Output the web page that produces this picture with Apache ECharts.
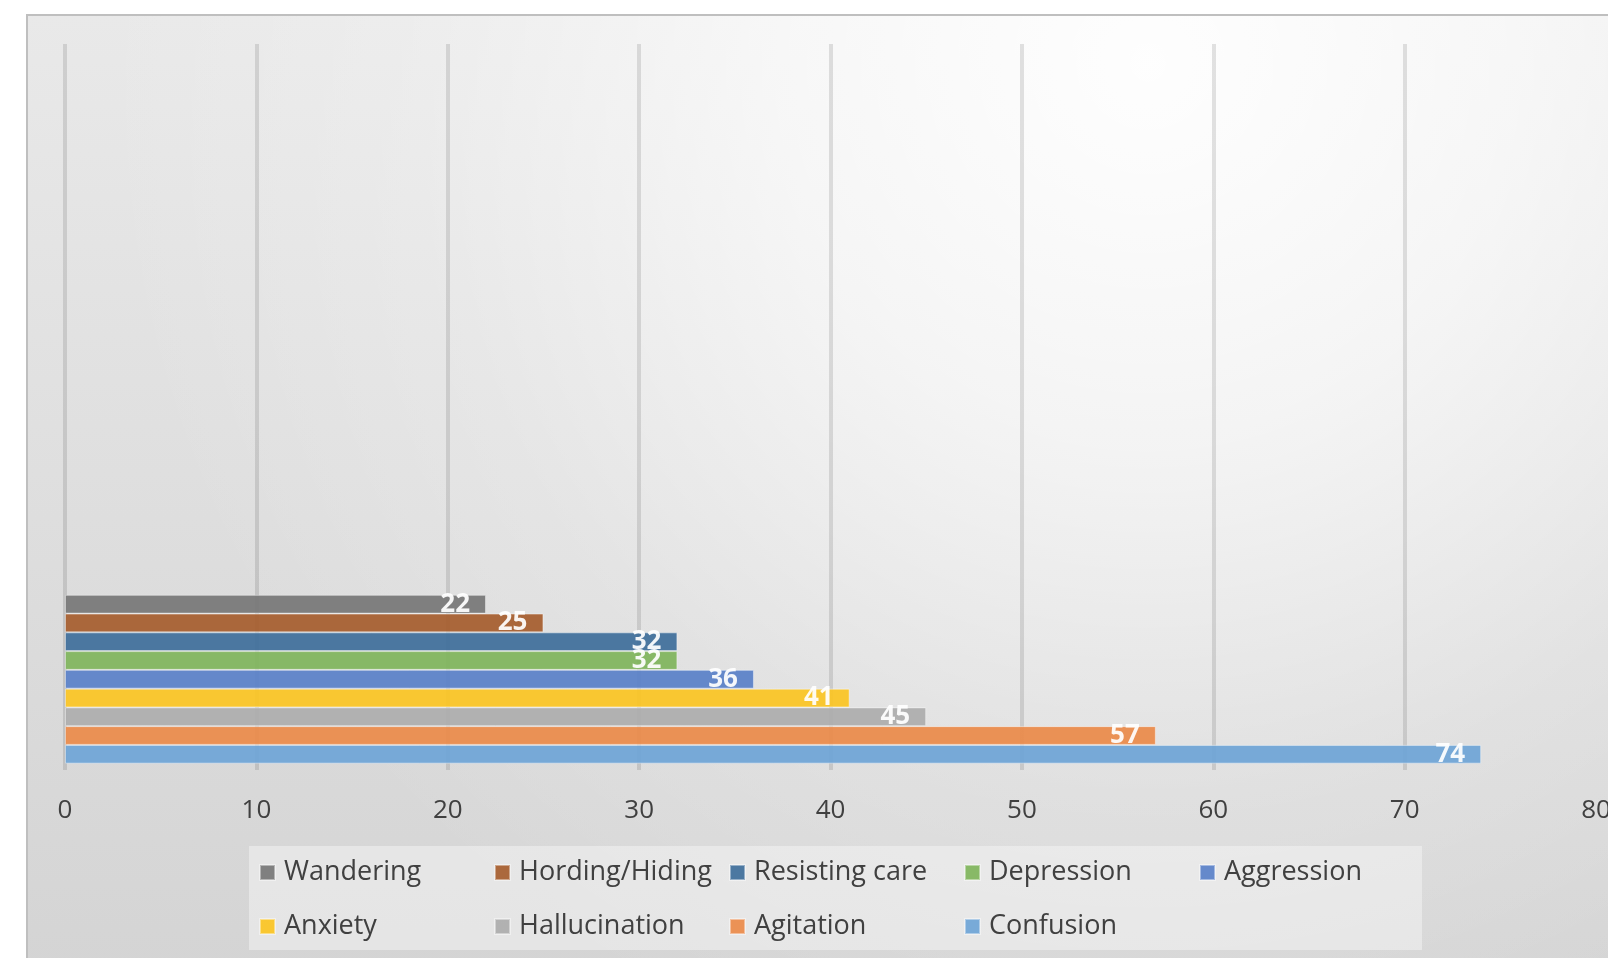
<!DOCTYPE html>
<html>
<head>
<meta charset="utf-8">
<script src="https://cdn.jsdelivr.net/npm/echarts@6/dist/echarts.min.js"></script>
<style>
  html, body { margin: 0; padding: 0; background: #ffffff; overflow: hidden; }
  #chart { width: 1608px; height: 958px; }
</style>
</head>
<body>
<div id="chart"></div>
<script>
// Behaviours, top bar to bottom bar
const behaviours = ['Wandering', 'Hording/Hiding', 'Resisting care', 'Depression', 'Aggression', 'Anxiety', 'Hallucination', 'Agitation', 'Confusion'];
const counts = [22, 25, 32, 32, 36, 41, 45, 57, 74];
const barColors = ['#777777', '#a65e2e', '#3f6f9b', '#80b55d', '#5a81c8', '#fbc523', '#adadad', '#eb8b4a', '#6fa5d6'];
// the category axis keeps four slots; only the first one holds bars
const categorySlots = ['Behaviour', '', '', ''];
const xTicks = [0, 10, 20, 30, 40, 50, 60, 70, 80];

const FONT = '"Open Sans", Lato, sans-serif';

const series = behaviours.map((name, i) => ({
  name: name,
  type: 'bar',
  data: [counts[i]],
  barGap: '0%',
  barCategoryGap: '7%',
  itemStyle: {
    color: barColors[i],
    opacity: 0.93,
    borderColor: 'rgba(255,255,255,0.45)',
    borderWidth: 1
  },
  label: {
    show: true,
    position: 'insideRight',
    distance: 16,
    color: '#ffffff',
    fontFamily: FONT,
    fontWeight: 'bold',
    fontSize: 26
  }
}));

const chart = echarts.init(document.getElementById('chart'), null, { renderer: 'canvas' });

chart.setOption({
  backgroundColor: '#ffffff',
  animation: false,
  color: barColors,
  graphic: [
    {
      type: 'rect',
      z: -20,
      silent: true,
      shape: { x: 27, y: 15, width: 1610, height: 960 },
      style: {
        fill: new echarts.graphic.LinearGradient(0, 0, 0, 1, [
          { offset: 0, color: '#e9e9e9' },
          { offset: 1, color: '#d4d4d4' }
        ]),
        stroke: '#bfbfbf',
        lineWidth: 2
      }
    },
    {
      type: 'rect',
      z: -19,
      silent: true,
      shape: { x: 28, y: 16, width: 1600, height: 960 },
      style: {
        fill: new echarts.graphic.RadialGradient(0.7, 0.05, 1.1, [
          { offset: 0, color: 'rgba(255,255,255,0.95)' },
          { offset: 0.35, color: 'rgba(255,255,255,0.65)' },
          { offset: 0.7, color: 'rgba(255,255,255,0.2)' },
          { offset: 1, color: 'rgba(255,255,255,0)' }
        ])
      }
    }
  ],
  grid: {
    left: 65,
    width: 1531,
    top: 44,
    bottom: 188,
    containLabel: false,
    outerBoundsMode: 'none'
  },
  xAxis: {
    type: 'value',
    min: 0,
    max: 80,
    interval: 10,
    axisLine: { show: false },
    axisTick: { show: false },
    axisLabel: {
      color: '#404040',
      fontFamily: FONT,
      fontSize: 26,
      margin: 28,
      formatter: (v) => (xTicks.includes(v) ? String(v) : '')
    },
    splitLine: {
      show: true,
      showMaxLine: false,
      lineStyle: {
        color: 'rgba(0,0,0,0.11)',
        width: 4
      }
    }
  },
  yAxis: {
    type: 'category',
    data: categorySlots,
    axisLine: { show: false },
    axisTick: { show: false },
    axisLabel: { show: false },
    splitLine: { show: false }
  },
  legend: {
    data: behaviours,
    left: 249,
    top: 846,
    width: 1170,
    orient: 'horizontal',
    padding: [7, 3, 4, 10],
    backgroundColor: 'rgba(246,246,246,0.5)',
    icon: 'rect',
    itemWidth: 15,
    itemHeight: 15,
    itemGap: 15,
    selectedMode: false,
    textStyle: {
      color: '#404040',
      fontFamily: FONT,
      fontSize: 27,
      width: 195,
      padding: [0, 0, 0, 4],
      lineHeight: 39
    }
  },
  series: series
});
</script>
</body>
</html>
